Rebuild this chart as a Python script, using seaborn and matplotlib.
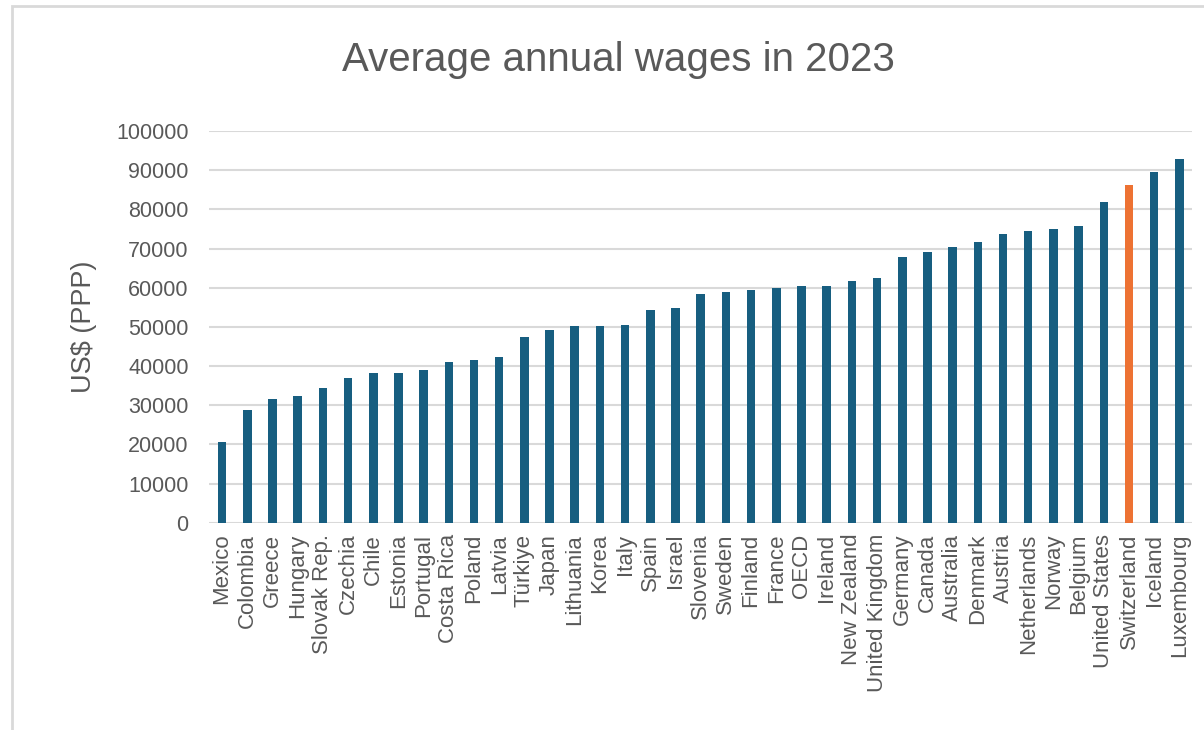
import matplotlib
matplotlib.use("Agg")
import matplotlib.pyplot as plt
import seaborn as sns
import pandas as pd
from matplotlib.patches import Rectangle

countries = ["Mexico", "Colombia", "Greece", "Hungary", "Slovak Rep.", "Czechia", "Chile",
             "Estonia", "Portugal", "Costa Rica", "Poland", "Latvia", "Türkiye", "Japan",
             "Lithuania", "Korea", "Italy", "Spain", "Israel", "Slovenia", "Sweden", "Finland",
             "France", "OECD", "Ireland", "New Zealand", "United Kingdom", "Germany", "Canada",
             "Australia", "Denmark", "Austria", "Netherlands", "Norway", "Belgium",
             "United States", "Switzerland", "Iceland", "Luxembourg"]
wages = [20600, 28800, 31600, 32400, 34400, 37000, 38300, 38300, 39000, 41100, 41500, 42300,
         47300, 49100, 50200, 50200, 50600, 54200, 54700, 58500, 58800, 59300, 60000, 60400,
         60400, 61600, 62500, 67900, 69200, 70400, 71700, 73600, 74500, 75000, 75800, 81900,
         86300, 89500, 92900]
highlight = "Switzerland"

df = pd.DataFrame({"country": countries, "wage": wages})
palette = {c: ("#ed7233" if c == highlight else "#175e80") for c in countries}

sns.set_theme(style="white")
plt.rcParams["font.family"] = ["Liberation Sans", "DejaVu Sans"]
grey = "#595959"

fig = plt.figure(figsize=(12.04, 7.30), dpi=100)
ax = fig.add_axes([0.174, 0.284, 0.816, 0.5365])

sns.barplot(data=df, x="country", y="wage", hue="country", palette=palette,
            saturation=1, width=0.34, linewidth=0, legend=False, ax=ax, zorder=3)

ax.set_ylim(0, 100000)
ax.set_xlim(-0.5, len(countries) - 0.5)
ax.set_yticks(range(0, 100001, 10000))
ax.yaxis.grid(True, color="#d9d9d9", linewidth=1.5, zorder=0)
ax.set_axisbelow(True)
for s in ax.spines.values():
    s.set_visible(False)
ax.tick_params(axis="both", length=0, colors=grey)
ax.tick_params(axis="y", labelsize=15.5, pad=15)
ax.tick_params(axis="x", labelsize=16, pad=8)
plt.setp(ax.get_xticklabels(), rotation=90)
ax.set_xlabel("")
ax.set_ylabel("US$ (PPP)", fontsize=19.5, color=grey, labelpad=14)

fig.text(0.514, 0.918, "Average annual wages in 2023", ha="center", va="center",
         fontsize=29, color=grey)

fig.patches.append(Rectangle((12 / 1204, -0.1), 1.2, 1.1 - 6 / 730, transform=fig.transFigure,
                             fill=False, edgecolor="#d9d9d9", linewidth=2))

fig.savefig("out.png", dpi=100)
